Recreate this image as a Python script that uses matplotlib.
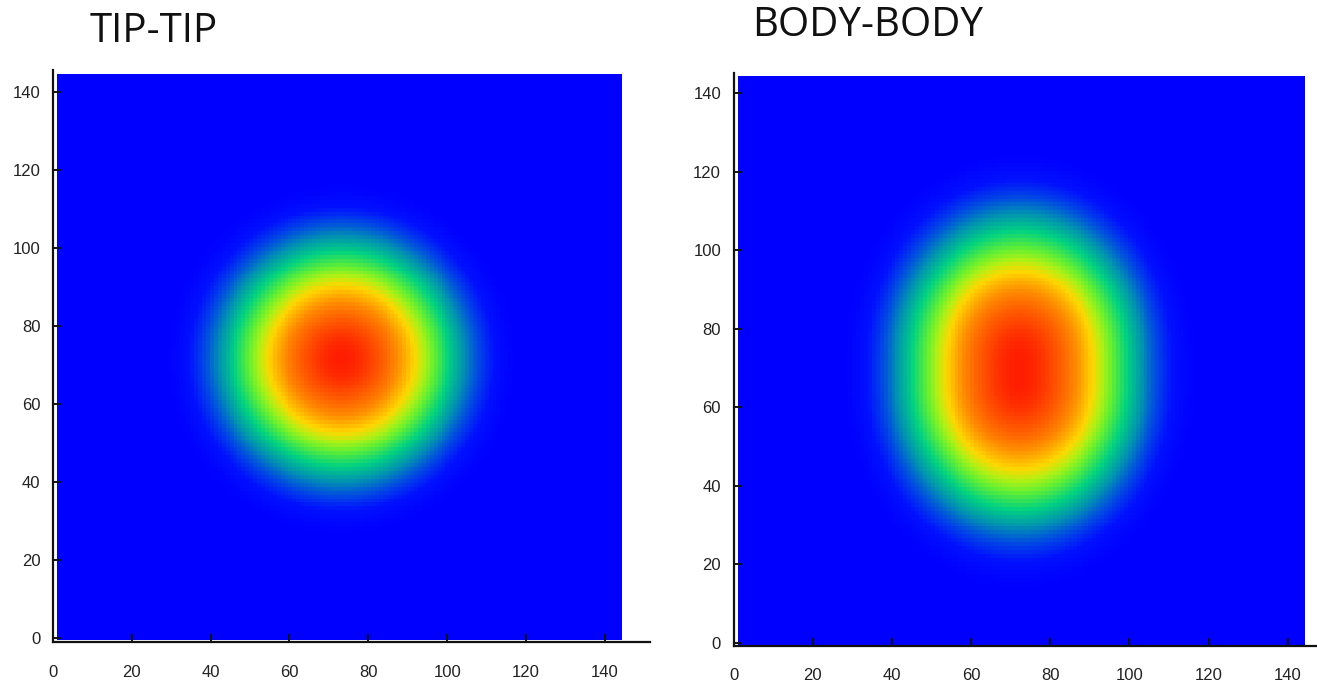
import numpy as np
import matplotlib
matplotlib.use("Agg")
import matplotlib.pyplot as plt
from matplotlib.colors import LinearSegmentedColormap

# Grid of the simulated density maps (cells 1..144 on each axis)
grid_n = 144
titles = ["TIP-TIP", "BODY-BODY"]
tick_values = [0, 20, 40, 60, 80, 100, 120, 140]

# Gaussian density parameters for each contact type
tip_center = (73.0, 72.0)
tip_sigma = 22.0
body_center = (72.0, 70.0)
body_sigma_x = 22.0
body_sigma_y = 25.3
body_half_length = 4.0   # extra vertical elongation of the BODY-BODY core

# Rainbow palette: blue background -> teal -> green -> yellow -> orange -> red
palette_stops = [0.0, 0.13, 0.21, 0.28, 0.37, 0.46, 0.565, 0.634, 0.70, 0.81, 0.94, 1.0]
palette_colors = ["#0000ff", "#0000ff", "#0010ff", "#0046e6", "#0096af", "#00d282",
                  "#64f032", "#b4f014", "#ffd700", "#ff8c00", "#ff4600", "#ff1e00"]
cmap = LinearSegmentedColormap.from_list(
    "contact", list(zip(palette_stops, palette_colors)), N=512)

cells = np.arange(1, grid_n + 1, dtype=float)
X, Y = np.meshgrid(cells, cells)

tip_map = np.exp(-((X - tip_center[0]) ** 2 + (Y - tip_center[1]) ** 2)
                 / (2 * tip_sigma ** 2))
dy = Y - body_center[1]
dy_eff = np.sqrt(dy ** 2 + body_half_length ** 2) - body_half_length
body_map = np.exp(-(X - body_center[0]) ** 2 / (2 * body_sigma_x ** 2)
                  - dy_eff ** 2 / (2 * body_sigma_y ** 2))

fig = plt.figure(figsize=(13.17, 6.82), dpi=100)

panels = [
    dict(rect=[0.0401, 0.0581, 0.4537, 0.8386], data=tip_map,
         extent=[1.0, 144.2, -0.3, 144.6], xlim=(0, 151.5), ylim=(-1.0, 145.5),
         title_xy=(90 / 1317, 1 - 42 / 682)),
    dict(rect=[0.5570, 0.0526, 0.4434, 0.8403], data=body_map,
         extent=[1.2, 144.3, -0.5, 144.4], xlim=(0, 147.5), ylim=(-0.8, 145.2),
         title_xy=(752 / 1317, 1 - 36 / 682)),
]

for title, p in zip(titles, panels):
    ax = fig.add_axes(p["rect"])
    ax.imshow(p["data"], cmap=cmap, vmin=0.0, vmax=1.0, origin="lower",
              extent=p["extent"], interpolation="nearest", aspect="auto",
              zorder=1)
    ax.set_xlim(*p["xlim"])
    ax.set_ylim(*p["ylim"])
    ax.set_xticks(tick_values)
    ax.set_yticks(tick_values)
    for side in ("top", "right"):
        ax.spines[side].set_visible(False)
    for side in ("left", "bottom"):
        ax.spines[side].set_linewidth(1.6)
        ax.spines[side].set_color("#111111")
        ax.spines[side].set_zorder(3)
    ax.tick_params(axis="both", direction="in", length=6, width=1.4,
                   color="#111111", labelsize=12, labelcolor="#222222",
                   labelfontfamily="Liberation Sans")
    ax.tick_params(axis="x", pad=16)
    ax.tick_params(axis="y", pad=9)
    ax.set_axisbelow(False)
    for tl in ax.get_xticklines() + ax.get_yticklines():
        tl.set_zorder(4)
    fig.text(p["title_xy"][0], p["title_xy"][1], title, fontsize=29,
             family="Open Sans", ha="left", va="baseline", color="#111111")

fig.savefig("out.png", dpi=100)
